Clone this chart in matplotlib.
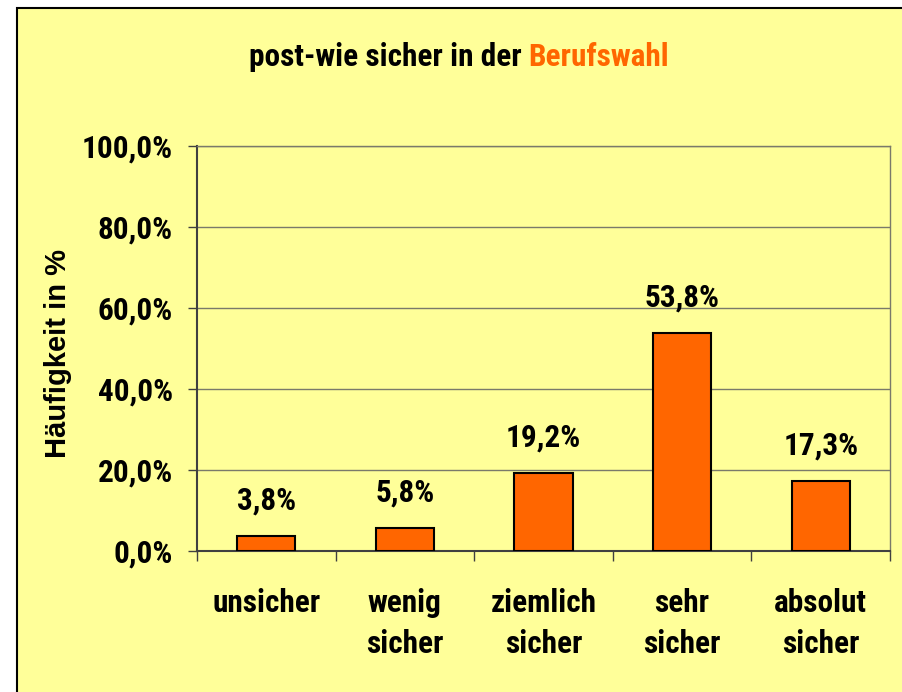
import numpy as np
import matplotlib.pyplot as plt
from matplotlib.patches import Rectangle

# data
categories = ["unsicher", "wenig\nsicher", "ziemlich\nsicher", "sehr\nsicher", "absolut\nsicher"]
values = [3.8, 5.8, 19.2, 53.8, 17.3]
value_labels = ["3,8%", "5,8%", "19,2%", "53,8%", "17,3%"]
y_ticks = [0, 20, 40, 60, 80, 100]
y_ticklabels = ["0,0%", "20,0%", "40,0%", "60,0%", "80,0%", "100,0%"]

narrow = ['Roboto Condensed', 'Liberation Sans', 'DejaVu Sans']
yellow = '#FFFF99'
orange = '#FF6600'

fig = plt.figure(figsize=(9.03, 6.92), dpi=100)
fig.patch.set_facecolor('white')

# yellow chart area with black frame (cut off at right / bottom)
fig.patches.append(Rectangle((16.5 / 903, -0.05), 1.2, 1 - 8 / 692 + 0.05,
                             transform=fig.transFigure, facecolor=yellow,
                             edgecolor='black', lw=1.5, zorder=-5))

ax = fig.add_axes([197 / 903, 1 - 551 / 692, (890 - 197) / 903, (551 - 146) / 692])
ax.set_facecolor(yellow)

x = np.arange(len(values))
ax.bar(x, values, width=0.42, color=orange, edgecolor='black', linewidth=1.5, zorder=3)

for xi, v, lab in zip(x, values, value_labels):
    ax.annotate(lab, (xi, v), xytext=(0, 19), textcoords='offset points',
                ha='center', va='baseline', fontsize=22.5, fontweight='bold',
                family=narrow)

ax.set_xlim(-0.5, len(values) - 0.5)
ax.set_ylim(0, 100)

ax.set_yticks(y_ticks)
ax.set_yticklabels(y_ticklabels, fontsize=22.5, fontweight='bold', family=narrow)
ax.tick_params(axis='y', direction='out', length=6.5, width=1, color='#404040', pad=11)
ax.grid(axis='y', color='#7a7a6a', lw=1, zorder=1)

ax.set_xticks(x)
ax.set_xticklabels(categories, fontsize=22.5, fontweight='bold', family=narrow,
                   linespacing=1.45, va='top')
ax.set_xticks(np.arange(len(values) + 1) - 0.5, minor=True)
ax.tick_params(axis='x', which='major', length=0, pad=27)
ax.tick_params(axis='x', which='minor', direction='out', length=7, width=1, color='#404040')

for s in ['left', 'bottom']:
    ax.spines[s].set_color('#404040')
    ax.spines[s].set_linewidth(1.5)
for s in ['top', 'right']:
    ax.spines[s].set_color('#7a7a6a')
    ax.spines[s].set_linewidth(1)

# title in two colours
fig.text(522 / 903, 1 - 57 / 692, "post-wie sicher in der", ha='right', va='center',
         fontsize=22.5, fontweight='bold', family=narrow, color='black')
fig.text(528 / 903, 1 - 57 / 692, "Berufswahl", ha='left', va='center',
         fontsize=22.5, fontweight='bold', family=narrow, color=orange)

fig.text(58 / 903, 1 - 354 / 692, "Häufigkeit in %", rotation=90, ha='center', va='center',
         fontsize=21, fontweight='bold', family=['Liberation Sans', 'DejaVu Sans'])

fig.savefig('out.png', dpi=100, facecolor=fig.get_facecolor())
